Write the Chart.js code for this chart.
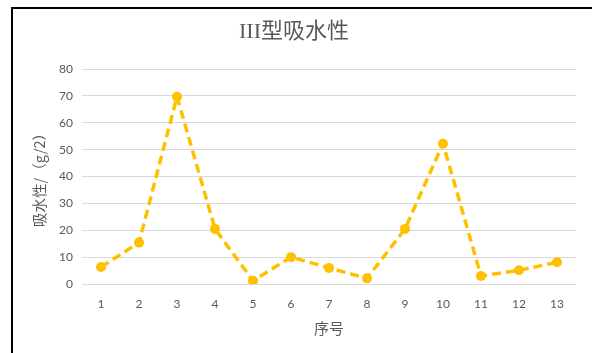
<!DOCTYPE html>
<html>
<head>
<meta charset="utf-8">
<script src="https://cdn.jsdelivr.net/npm/chart.js@4"></script>
<style>
  html, body { margin: 0; padding: 0; background: #fff; }
  #wrap { position: relative; width: 592px; height: 353px; }
  #frame {
    position: absolute; left: 11px; top: 7px; right: 0; bottom: 0;
    border-left: 2px solid #000; border-top: 2px solid #000;
    pointer-events: none;
  }
  canvas { position: absolute; left: 0; top: 0; }
</style>
</head>
<body>
<div id="wrap">
  <canvas id="waterChart" width="592" height="353"></canvas>
  <div id="frame"></div>
</div>
<script>
const categories = ['1', '2', '3', '4', '5', '6', '7', '8', '9', '10', '11', '12', '13'];
const absorption = [6.3, 15.4, 69.7, 20.5, 1.2, 10.0, 6.0, 2.1, 20.5, 52.2, 3.0, 5.1, 8.1];
const yTicks = [0, 10, 20, 30, 40, 50, 60, 70, 80];

const gold = '#FFC000';
const grey = '#595959';
const numFont = 'Lato, "Liberation Sans", sans-serif';
const cjkFont = '"Noto Sans CJK SC", sans-serif';

const ctx = document.getElementById('waterChart');

new Chart(ctx, {
  type: 'line',
  data: {
    labels: categories,
    datasets: [{
      label: 'III型吸水性',
      data: absorption,
      borderColor: gold,
      backgroundColor: gold,
      borderWidth: 3.5,
      borderDash: [9, 5],
      pointRadius: 5,
      pointBorderWidth: 0,
      pointBackgroundColor: gold,
      tension: 0,
      fill: false
    }]
  },
  options: {
    responsive: false,
    animation: false,
    layout: {
      padding: { top: 8, left: 12, right: 16, bottom: 0 }
    },
    scales: {
      x: {
        offset: true,
        grid: { display: false, drawTicks: false, offset: true },
        border: { display: false },
        ticks: {
          color: grey,
          padding: 13,
          font: { family: numFont, size: 12 }
        },
        title: {
          display: true,
          text: '序号',
          color: grey,
          padding: { top: 0, bottom: 16 },
          font: { family: cjkFont, size: 15 }
        },
        afterFit: s => { s.height = 69; }
      },
      y: {
        min: 0,
        max: 80,
        afterBuildTicks: s => { s.ticks = yTicks.map(v => ({ value: v })); },
        grid: { color: '#d9d9d9', lineWidth: 1, drawTicks: false },
        border: { display: false },
        ticks: {
          color: grey,
          padding: 9,
          font: { family: numFont, size: 12 }
        },
        title: {
          display: true,
          text: '吸水性/（g/2）',
          color: grey,
          padding: { top: 19, bottom: 0 },
          font: { family: cjkFont, size: 14.5 }
        },
        afterFit: s => { s.width = 70; }
      }
    },
    plugins: {
      legend: { display: false },
      tooltip: { enabled: false },
      title: {
        display: true,
        text: 'III型吸水性',
        color: grey,
        padding: { top: 11, bottom: 23.6 },
        font: { family: '"Liberation Serif", "Noto Sans CJK SC", serif', size: 22, weight: 'normal' }
      }
    }
  }
});
</script>
</body>
</html>
